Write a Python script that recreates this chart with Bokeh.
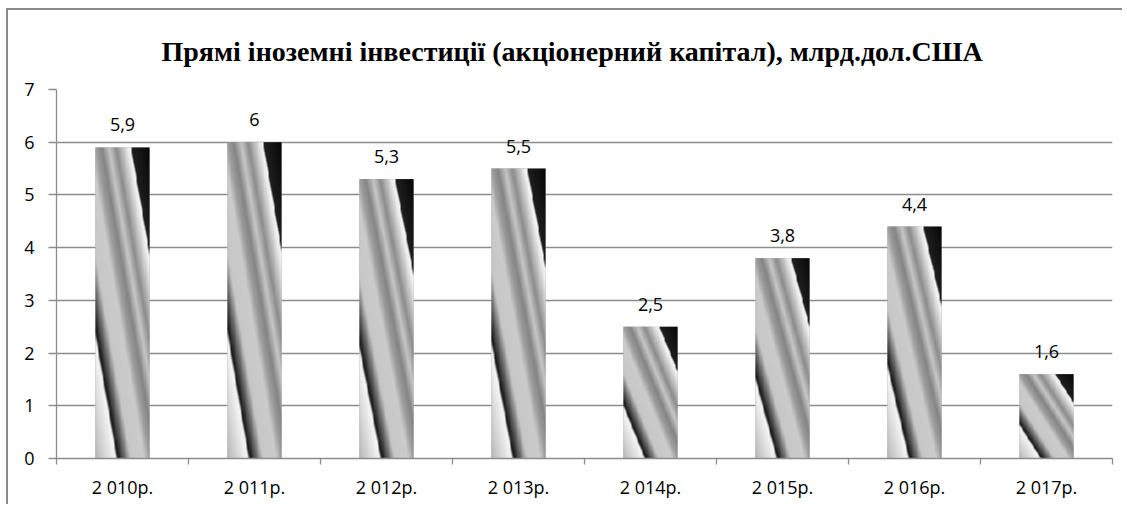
import numpy as np
from bokeh.plotting import figure
from bokeh.models import ColumnDataSource, FixedTicker, Range1d
from bokeh.core.properties import value
from bokeh.embed import file_html
from bokeh.resources import INLINE

# ---- data ----
years = ["2 010р.", "2 011р.", "2 012р.", "2 013р.", "2 014р.", "2 015р.", "2 016р.", "2 017р."]
values = [5.9, 6.0, 5.3, 5.5, 2.5, 3.8, 4.4, 1.6]
y_ticks = [0, 1, 2, 3, 4, 5, 6, 7]
title_text = "Прямі іноземні інвестиції (акціонерний капітал), млрд.дол.США"

value_labels = [("%g" % v).replace(".", ",") for v in values]
xc = [i + 0.5 for i in range(len(years))]
bar_w = 0.41

# ---- gradient texture (in normalized bar coordinates) ----
TW, TH = 64, 420
u = (np.arange(TW) + 0.5) / TW
vb = (np.arange(TH) + 0.5) / TH          # from bottom
vt = 1.0 - vb                             # from top
U, VT = np.meshgrid(u, vt)
S = U - VT
ks = [-1.0, -0.62, -0.585, -0.45, -0.35, -0.1, 0.0, 0.12, 0.25, 0.38, 0.6, 0.645, 0.665, 1.0]
kg = [0.72, 0.97, 0.08, 0.45, 0.78, 0.80, 0.62, 0.52, 0.78, 0.55, 0.93, 0.97, 0.12, 0.03]
G = np.interp(S, ks, kg)
g8 = (G * 255).astype(np.uint8)
rgba = np.zeros((TH, TW, 4), dtype=np.uint8)
rgba[..., 0] = g8
rgba[..., 1] = g8
rgba[..., 2] = g8
rgba[..., 3] = 255
tex = rgba.view(dtype=np.uint32).reshape((TH, TW))

src = ColumnDataSource(dict(
    x=xc,
    left=[c - bar_w / 2 for c in xc],
    top=values,
    zero=[0] * len(values),
    w=[bar_w] * len(values),
    img=[tex] * len(values),
    lbl=value_labels,
))

# content origin (after margin + border): x=8, y=10
X0, Y0 = 8, 10
W, H = 1116, 496
p = figure(width=W, height=H, x_range=Range1d(0, len(years)), y_range=Range1d(0, 7),
           output_backend="svg", toolbar_location=None,
           min_border_left=56 - X0, min_border_right=X0 + W - 1112,
           min_border_top=89 - Y0, min_border_bottom=Y0 + H - 458)
p.styles = {"border-top": "2px solid #8a8a8a", "border-left": "2px solid #8a8a8a",
            "margin-left": "6px", "margin-top": "8px"}

p.title.text = title_text
p.title.text_font = "Liberation Serif"
p.title.text_font_style = "bold"
p.title.text_font_size = "28px"
p.title.align = "left"
p.title.offset = 105
p.title.standoff = 46
p.title.text_color = "#000000"

p.vbar(x="x", top="top", width="w", source=src, fill_color="#9a9a9a", line_color=None)
p.image_rgba(image="img", x="left", y="zero", dw="w", dh="top", source=src)

p.text(x="x", y="top", text="lbl", source=src, text_align="center", text_baseline="bottom",
       y_offset=-16, text_font=value("Open Sans"), text_font_size="18px", text_color="#000000")

grid_col = "#8c8c8c"
p.xgrid.visible = False
p.ygrid.ticker = FixedTicker(ticks=y_ticks)
p.ygrid.grid_line_color = grid_col
p.ygrid.grid_line_width = 1.3

p.yaxis.ticker = FixedTicker(ticks=y_ticks)
p.yaxis.axis_line_color = grid_col
p.yaxis.axis_line_width = 1.3
p.yaxis.major_tick_line_color = grid_col
p.yaxis.major_tick_line_width = 1.3
p.yaxis.major_tick_out = 8
p.yaxis.major_tick_in = 0
p.yaxis.minor_tick_line_color = None
p.yaxis.major_label_standoff = 14
p.yaxis.major_label_text_font = "Open Sans"
p.yaxis.major_label_text_font_size = "18px"
p.yaxis.major_label_text_color = "#000000"

p.xaxis.ticker = FixedTicker(ticks=xc, minor_ticks=list(range(len(years) + 1)))
p.xaxis.major_label_overrides = {c: y for c, y in zip(xc, years)}
p.xaxis.axis_line_color = grid_col
p.xaxis.axis_line_width = 1.3
p.xaxis.major_tick_line_color = None
p.xaxis.major_tick_out = 0
p.xaxis.major_tick_in = 0
p.xaxis.minor_tick_line_color = grid_col
p.xaxis.minor_tick_line_width = 1.3
p.xaxis.minor_tick_out = 6
p.xaxis.minor_tick_in = 0
p.xaxis.major_label_standoff = 10
p.xaxis.major_label_text_font = "Open Sans"
p.xaxis.major_label_text_font_size = "18px"
p.xaxis.major_label_text_color = "#000000"

p.outline_line_color = None

open("out.html", "w").write(file_html(p, INLINE))
